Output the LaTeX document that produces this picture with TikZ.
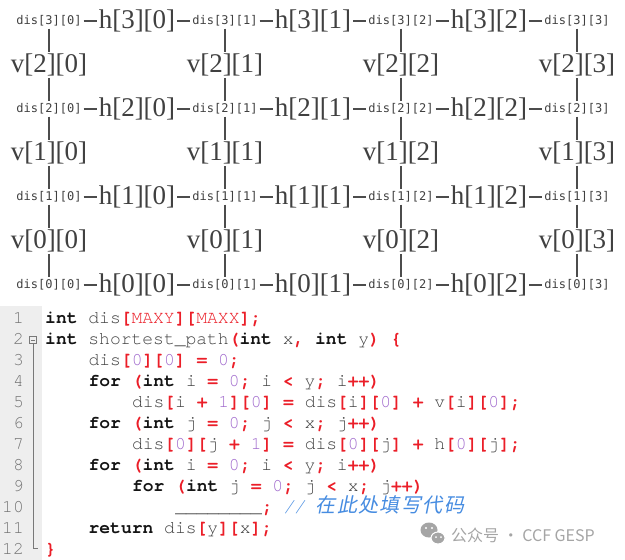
\documentclass[tikz,border=0pt]{standalone}
\usepackage{fontspec}
\setmainfont{Liberation Serif}
\newfontfamily\disfont{DejaVu Sans Mono}
\newfontfamily\codefont[Extension=.otf, UprightFont=texgyrecursor-regular, BoldFont=texgyrecursor-bold, ItalicFont=texgyrecursor-italic, BoldItalicFont=texgyrecursor-bolditalic]{texgyrecursor}
\newfontfamily\cjkfont{Noto Sans CJK SC}
\newfontfamily\cjkslant[FakeSlant=0.2,LetterSpace=7]{Noto Sans CJK SC}
\usetikzlibrary{positioning}

\definecolor{kwcolor}{RGB}{20,20,20}
\definecolor{idcolor}{RGB}{65,65,65}
\definecolor{opcolor}{RGB}{235,30,40}
\definecolor{numcolor}{RGB}{160,105,205}
\definecolor{cmtcolor}{RGB}{70,140,225}
\definecolor{gutter}{RGB}{238,238,238}
\definecolor{foldcol}{RGB}{120,120,120}
\definecolor{wmcolor}{RGB}{165,165,165}

\newcommand{\kw}[1]{\textcolor{kwcolor}{\bfseries #1}}
\newcommand{\idf}[1]{\textcolor{idcolor}{#1}}
\newcommand{\opr}[1]{\textcolor{opcolor}{\bfseries #1}}
\newcommand{\cnum}[1]{\textcolor{numcolor}{#1}}
\newcommand{\cmt}[1]{\textcolor{cmtcolor}{\itshape #1}}

\tikzset{
  dis/.style={font=\disfont\fontsize{12}{14}\selectfont, text=black!75, inner sep=2pt},
  lab/.style={font=\fontsize{27}{30}\selectfont, text=black!75, inner sep=2pt},
  link/.style={draw=black!70, line width=1.2pt},
  codeline/.style={anchor=base west, inner sep=0pt, font=\codefont\fontsize{18}{21}\selectfont},
  lineno/.style={anchor=base east, inner sep=0pt, text=black!55, font=\codefont\fontsize{18}{21}\selectfont},
  fold/.style={draw=foldcol, line width=0.8pt}
}

\begin{document}
\frenchspacing
\begin{tikzpicture}[x=1pt, y=-1pt, node distance=44pt and 88pt, on grid]
  \fill[white] (0,0) rectangle (625,560);
  \useasboundingbox (0,0) rectangle (625,560);

  % grid
  \node (d30) [dis] at (49,21) {dis[3][0]};
  \node (h30) [lab, right=of d30] {h[3][0]};
  \node (d31) [dis, right=of h30] {dis[3][1]};
  \node (h31) [lab, right=of d31] {h[3][1]};
  \node (d32) [dis, right=of h31] {dis[3][2]};
  \node (h32) [lab, right=of d32] {h[3][2]};
  \node (d33) [dis, right=of h32] {dis[3][3]};

  \node (v20) [lab, below=of d30] {v[2][0]};
  \node (v21) [lab, below=of d31] {v[2][1]};
  \node (v22) [lab, below=of d32] {v[2][2]};
  \node (v23) [lab, below=of d33] {v[2][3]};

  \node (d20) [dis, below=of v20] {dis[2][0]};
  \node (h20) [lab, right=of d20] {h[2][0]};
  \node (d21) [dis, right=of h20] {dis[2][1]};
  \node (h21) [lab, right=of d21] {h[2][1]};
  \node (d22) [dis, right=of h21] {dis[2][2]};
  \node (h22) [lab, right=of d22] {h[2][2]};
  \node (d23) [dis, right=of h22] {dis[2][3]};

  \node (v10) [lab, below=of d20] {v[1][0]};
  \node (v11) [lab, below=of d21] {v[1][1]};
  \node (v12) [lab, below=of d22] {v[1][2]};
  \node (v13) [lab, below=of d23] {v[1][3]};

  \node (d10) [dis, below=of v10] {dis[1][0]};
  \node (h10) [lab, right=of d10] {h[1][0]};
  \node (d11) [dis, right=of h10] {dis[1][1]};
  \node (h11) [lab, right=of d11] {h[1][1]};
  \node (d12) [dis, right=of h11] {dis[1][2]};
  \node (h12) [lab, right=of d12] {h[1][2]};
  \node (d13) [dis, right=of h12] {dis[1][3]};

  \node (v00) [lab, below=of d10] {v[0][0]};
  \node (v01) [lab, below=of d11] {v[0][1]};
  \node (v02) [lab, below=of d12] {v[0][2]};
  \node (v03) [lab, below=of d13] {v[0][3]};

  \node (d00) [dis, below=of v00] {dis[0][0]};
  \node (h00) [lab, right=of d00] {h[0][0]};
  \node (d01) [dis, right=of h00] {dis[0][1]};
  \node (h01) [lab, right=of d01] {h[0][1]};
  \node (d02) [dis, right=of h01] {dis[0][2]};
  \node (h02) [lab, right=of d02] {h[0][2]};
  \node (d03) [dis, right=of h02] {dis[0][3]};

  \draw [link] (d30) -- (h30) -- (d31) -- (h31) -- (d32) -- (h32) -- (d33);
  \draw [link] (d20) -- (h20) -- (d21) -- (h21) -- (d22) -- (h22) -- (d23);
  \draw [link] (d10) -- (h10) -- (d11) -- (h11) -- (d12) -- (h12) -- (d13);
  \draw [link] (d00) -- (h00) -- (d01) -- (h01) -- (d02) -- (h02) -- (d03);

  \draw [link] (d30) -- (v20) -- (d20) -- (v10) -- (d10) -- (v00) -- (d00);
  \draw [link] (d31) -- (v21) -- (d21) -- (v11) -- (d11) -- (v01) -- (d01);
  \draw [link] (d32) -- (v22) -- (d22) -- (v12) -- (d12) -- (v02) -- (d02);
  \draw [link] (d33) -- (v23) -- (d23) -- (v13) -- (d13) -- (v03) -- (d03);

  % code listing
  \fill[gutter] (0,306) rectangle (42,560);

  \node (n1) [lineno] at (24,323) {1};
  \node (n2) [lineno] at (24,344) {2};
  \node (n3) [lineno] at (24,365) {3};
  \node (n4) [lineno] at (24,386) {4};
  \node (n5) [lineno] at (24,407) {5};
  \node (n6) [lineno] at (24,428) {6};
  \node (n7) [lineno] at (24,449) {7};
  \node (n8) [lineno] at (24,470) {8};
  \node (n9) [lineno] at (24,491) {9};
  \node (n10) [lineno] at (24,512) {10};
  \node (n11) [lineno] at (24,533) {11};
  \node (n12) [lineno] at (24,554) {12};

  \draw [fold] (29.5,336.5) rectangle (36.5,343.5);
  \draw [fold] (31,340) -- (35,340);
  \draw [fold] (33,343.5) -- (33,548) -- (38,548);

  \node (c1) [codeline] at (45,323) {\kw{int} \idf{dis}\opr{[}\textcolor{opcolor}{MAXY}\opr{]}\opr{[}\textcolor{opcolor}{MAXX}\opr{]}\opr{;}};
  \node (c2) [codeline] at (45,344) {\kw{int} \idf{shortest\_path}\opr{(}\kw{int} \idf{x}\opr{,} \kw{int} \idf{y}\opr{)} \opr{\{}};
  \node (c3) [codeline] at (88.4,365) {\idf{dis}\opr{[}\cnum{0}\opr{]}\opr{[}\cnum{0}\opr{]} \opr{=} \cnum{0}\opr{;}};
  \node (c4) [codeline] at (88.4,386) {\kw{for} \opr{(}\kw{int} \idf{i} \opr{=} \cnum{0}\opr{;} \idf{i} \opr{<} \idf{y}\opr{;} \idf{i}\opr{++}\opr{)}};
  \node (c5) [codeline] at (131.8,407) {\idf{dis}\opr{[}\idf{i} \opr{+} \cnum{1}\opr{]}\opr{[}\cnum{0}\opr{]} \opr{=} \idf{dis}\opr{[}\idf{i}\opr{]}\opr{[}\cnum{0}\opr{]} \opr{+} \idf{v}\opr{[}\idf{i}\opr{]}\opr{[}\cnum{0}\opr{]}\opr{;}};
  \node (c6) [codeline] at (88.4,428) {\kw{for} \opr{(}\kw{int} \idf{j} \opr{=} \cnum{0}\opr{;} \idf{j} \opr{<} \idf{x}\opr{;} \idf{j}\opr{++}\opr{)}};
  \node (c7) [codeline] at (131.8,449) {\idf{dis}\opr{[}\cnum{0}\opr{]}\opr{[}\idf{j} \opr{+} \cnum{1}\opr{]} \opr{=} \idf{dis}\opr{[}\cnum{0}\opr{]}\opr{[}\idf{j}\opr{]} \opr{+} \idf{h}\opr{[}\cnum{0}\opr{]}\opr{[}\idf{j}\opr{]}\opr{;}};
  \node (c8) [codeline] at (88.4,470) {\kw{for} \opr{(}\kw{int} \idf{i} \opr{=} \cnum{0}\opr{;} \idf{i} \opr{<} \idf{y}\opr{;} \idf{i}\opr{++}\opr{)}};
  \node (c9) [codeline] at (131.8,491) {\kw{for} \opr{(}\kw{int} \idf{j} \opr{=} \cnum{0}\opr{;} \idf{j} \opr{<} \idf{x}\opr{;} \idf{j}\opr{++}\opr{)}};
  \node (c10) [codeline] at (175.2,512) {\idf{\_\_\_\_\_\_\_\_}\opr{;} \cmt{// {\cjkslant\fontsize{20}{21}\selectfont 在此处填写代码}}};
  \node (c11) [codeline] at (88.4,533) {\kw{return} \idf{dis}\opr{[}\idf{y}\opr{]}\opr{[}\idf{x}\opr{]}\opr{;}};
  \node (c12) [codeline] at (45,554) {\opr{\}}};

  % watermark
  \fill[wmcolor] (429,530) ellipse [x radius=8.5, y radius=7.5];
  \filldraw[fill=wmcolor, draw=white, line width=1pt] (438,538) ellipse [x radius=7, y radius=6];
  \fill[white] (426,528) circle [radius=1.2];
  \fill[white] (432,528) circle [radius=1.2];
  \fill[white] (436,537) circle [radius=1];
  \fill[white] (441,537) circle [radius=1];
  \node (wm) [anchor=west, inner sep=0pt, text=wmcolor, font=\cjkfont\fontsize{16}{19}\selectfont] at (451,535) {公众号 · CCF GESP};
\end{tikzpicture}
\end{document}
